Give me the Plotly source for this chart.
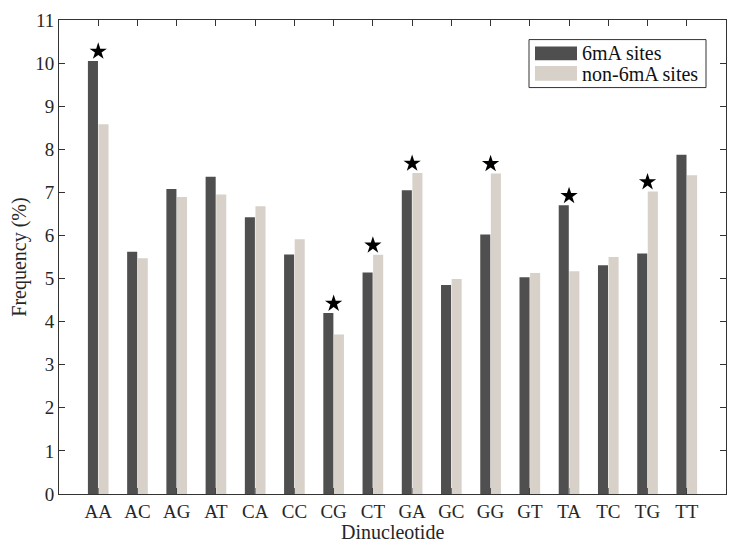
import plotly.graph_objects as go

categories = ["AA", "AC", "AG", "AT", "CA", "CC", "CG", "CT",
              "GA", "GC", "GG", "GT", "TA", "TC", "TG", "TT"]
sites_6mA = [10.05, 5.62, 7.08, 7.36, 6.42, 5.56, 4.20, 5.14,
             7.05, 4.85, 6.02, 5.03, 6.70, 5.31, 5.58, 7.87]
sites_non6mA = [8.58, 5.47, 6.89, 6.95, 6.68, 5.91, 3.70, 5.55,
                7.45, 4.99, 7.44, 5.13, 5.17, 5.50, 7.02, 7.40]
significant = ["AA", "CG", "CT", "GA", "GG", "TA", "TG"]
y_ticks = list(range(0, 12))

DARK = "#4f4f4f"
LIGHT = "#d8d1ca"
FONT = "Liberation Serif"
TXT = "#262626"
STAR_OFFSET = 0.22

fig = go.Figure()
fig.add_trace(go.Bar(x=categories, y=sites_6mA, name="6mA sites",
                     marker=dict(color=DARK, line=dict(width=0)), showlegend=False))
fig.add_trace(go.Bar(x=categories, y=sites_non6mA, name="non-6mA sites",
                     marker=dict(color=LIGHT, line=dict(width=0)), showlegend=False))

star_y = [max(sites_6mA[categories.index(c)], sites_non6mA[categories.index(c)]) + STAR_OFFSET
          for c in significant]
fig.add_trace(go.Scatter(x=significant, y=star_y, mode="markers",
                         marker=dict(symbol="star", size=13, color="black", line=dict(width=0)),
                         showlegend=False, hoverinfo="skip"))

# plot-area pixel geometry for custom legend
L, R, T, B = 59, 15, 10, 54
W, H = 741, 548
pw, ph = W - L - R, H - T - B

def px(x):
    return (x - L) / pw

def py(y):
    return (H - B - y) / ph

shapes = [
    dict(type="rect", xref="paper", yref="paper", x0=px(529), x1=px(706), y0=py(79), y1=py(30),
         line=dict(color="#333333", width=1), fillcolor="white", layer="above"),
    dict(type="rect", xref="paper", yref="paper", x0=px(535), x1=px(577), y0=py(51), y1=py(37),
         line=dict(width=0), fillcolor=DARK, layer="above"),
    dict(type="rect", xref="paper", yref="paper", x0=px(535), x1=px(577), y0=py(72), y1=py(57),
         line=dict(width=0), fillcolor=LIGHT, layer="above"),
]
annotations = [
    dict(xref="paper", yref="paper", x=px(580), y=py(44), text="6mA sites", showarrow=False,
         xanchor="left", yanchor="middle", font=dict(family=FONT, size=20, color="#111")),
    dict(xref="paper", yref="paper", x=px(580), y=py(65), text="non-6mA sites", showarrow=False,
         xanchor="left", yanchor="middle", font=dict(family=FONT, size=20, color="#111")),
    dict(xref="paper", yref="paper", x=0.5, y=py(533), text="Dinucleotide", showarrow=False,
         xanchor="center", yanchor="middle", font=dict(family=FONT, size=20, color=TXT)),
]

fig.update_layout(
    width=W, height=H,
    margin=dict(l=L, r=R, t=T, b=B),
    paper_bgcolor="white", plot_bgcolor="white",
    barmode="group", bargap=0.46, bargroupgap=0.05,
    font=dict(family=FONT, size=19, color=TXT),
    shapes=shapes, annotations=annotations,
    showlegend=False,
)
fig.update_xaxes(
    type="category", range=[-1, 16],
    showline=True, linecolor="#333333", linewidth=1, mirror="ticks",
    ticks="inside", ticklen=6, tickcolor="#333333",
    showgrid=False, zeroline=False, layer="below traces",
    tickfont=dict(family=FONT, size=19, color=TXT),
)
fig.update_yaxes(
    range=[0, 11], tickvals=y_ticks, ticklabeloverflow="allow",
    showline=True, linecolor="#333333", linewidth=1, mirror="ticks",
    ticks="inside", ticklen=6, tickcolor="#333333",
    showgrid=False, zeroline=False, layer="below traces",
    tickfont=dict(family=FONT, size=19, color=TXT),
    title=dict(text="Frequency (%)", font=dict(family=FONT, size=20, color=TXT), standoff=3),
)

fig.write_html("out.html", config={"displayModeBar": False},
               post_script="document.body.style.margin='0';")
